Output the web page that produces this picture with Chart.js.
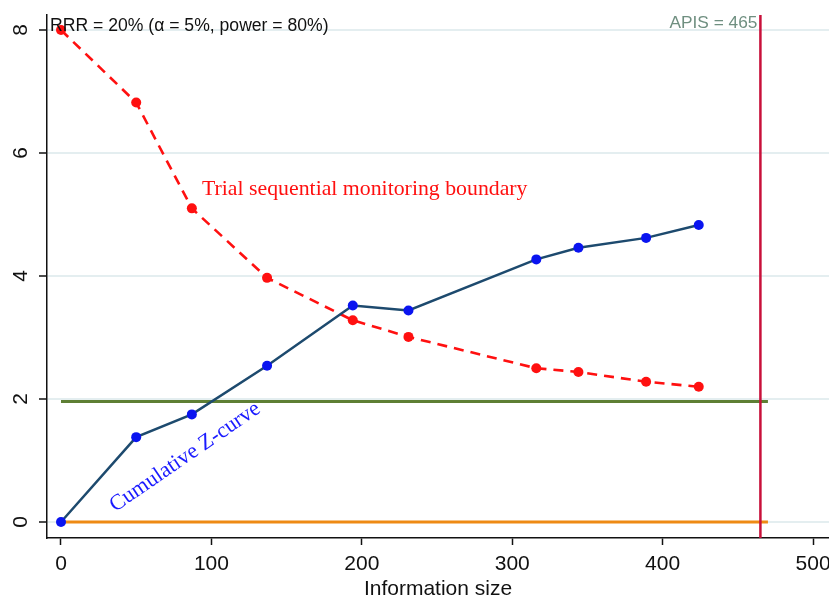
<!DOCTYPE html>
<html>
<head>
<meta charset="utf-8">
<script src="https://cdn.jsdelivr.net/npm/chart.js@4/dist/chart.umd.min.js"></script>
<style>
html,body{margin:0;padding:0;background:#fff;}
#wrap{width:829px;height:602px;position:relative;}
</style>
</head>
<body>
<div id="wrap"><canvas id="c" width="829" height="602"></canvas></div>
<script>
// ---- data ----
const infoSize = [0, 50, 87, 137, 194, 231, 316, 344, 389, 424];
const zCurve = [0, 1.38, 1.75, 2.54, 3.52, 3.44, 4.27, 4.46, 4.62, 4.83];
const boundary = [8.0, 6.82, 5.10, 3.97, 3.28, 3.01, 2.50, 2.44, 2.28, 2.20];
const conventionalZ = 1.96;
const lineEnd = 470;
const apis = 465;
const xTicks = [0, 100, 200, 300, 400, 500];
const yTicks = [0, 2, 4, 6, 8];
const xRange = [-9.3, 510.6];
const yRange = [-0.26, 8.244];

const zPts = infoSize.map((x, i) => ({x, y: zCurve[i]}));
const bPts = infoSize.map((x, i) => ({x, y: boundary[i]}));

const textPlugin = {
  id: 'texts',
  afterDatasetsDraw(chart) {
    const ctx = chart.ctx, xs = chart.scales.x, ys = chart.scales.y;
    ctx.save();
    ctx.textBaseline = 'alphabetic';
    // RRR label
    ctx.fillStyle = '#111';
    ctx.font = '17.6px "Liberation Sans", Arial, sans-serif';
    ctx.textAlign = 'left';
    ctx.fillText('RRR = 20% (\u03B1 = 5%, power = 80%)', xs.getPixelForValue(-7.3), ys.getPixelForValue(7.98));
    // APIS label
    ctx.fillStyle = '#6f8f80';
    ctx.font = '17.3px "Liberation Sans", Arial, sans-serif';
    ctx.textAlign = 'right';
    ctx.fillText('APIS = ' + apis, xs.getPixelForValue(apis) - 3, ys.getPixelForValue(8.03));
    // boundary label
    ctx.fillStyle = '#ff1010';
    ctx.font = '21.8px "Liberation Serif", "Times New Roman", serif';
    ctx.textAlign = 'left';
    ctx.fillText('Trial sequential monitoring boundary', xs.getPixelForValue(93.75), ys.getPixelForValue(5.317));
    // Z-curve label
    ctx.fillStyle = '#1a1aff';
    ctx.font = '22px "Liberation Serif", "Times New Roman", serif';
    ctx.translate(xs.getPixelForValue(36), ys.getPixelForValue(0.16));
    ctx.rotate(-34.5 * Math.PI / 180);
    ctx.fillText('Cumulative Z-curve', 0, 0);
    ctx.restore();
  }
};

new Chart(document.getElementById('c'), {
  type: 'scatter',
  data: {
    datasets: [
      { label: 'Z-curve', data: zPts, showLine: true, borderColor: '#1d4a6e', borderWidth: 2.5,
        pointRadius: 5, pointBackgroundColor: '#0a14f0', pointBorderColor: '#0a14f0', pointBorderWidth: 0, order: 1, tension: 0 },
      { label: 'Boundary', data: bPts, showLine: true, borderColor: '#ff1010', borderWidth: 2.6, borderDash: [10, 7],
        pointRadius: 5, pointBackgroundColor: '#ff1010', pointBorderColor: '#ff1010', pointBorderWidth: 0, order: 2, tension: 0 },
      { label: 'APIS', data: [{x: apis, y: yRange[0]}, {x: apis, y: yRange[1]}], showLine: true,
        borderColor: '#c8103a', borderWidth: 2.5, pointRadius: 0, order: 3 },
      { label: 'Zero', data: [{x: 0, y: 0}, {x: lineEnd, y: 0}], showLine: true,
        borderColor: '#ee8a14', borderWidth: 3, pointRadius: 0, order: 4 },
      { label: 'Conventional', data: [{x: 0, y: conventionalZ}, {x: lineEnd, y: conventionalZ}], showLine: true,
        borderColor: '#5e7f34', borderWidth: 3, pointRadius: 0, order: 5 }
    ]
  },
  options: {
    responsive: false,
    animation: false,
    devicePixelRatio: 1,
    layout: { autoPadding: false, padding: { top: 15, right: 0, left: 0, bottom: 0 } },
    plugins: { legend: { display: false }, tooltip: { enabled: false } },
    scales: {
      x: {
        type: 'linear', min: xRange[0], max: xRange[1],
        afterBuildTicks(s) { s.ticks = xTicks.map(v => ({value: v})); },
        afterFit(s) { s.height = 64; s.paddingLeft = 0; s.paddingRight = 0; },
        ticks: { color: '#111', font: { family: '"Liberation Sans", Arial, sans-serif', size: 21 }, padding: 7, maxRotation: 0, minRotation: 0 },
        grid: { drawOnChartArea: false, drawTicks: true, tickLength: 7, tickColor: '#111', tickWidth: 1.5 },
        border: { color: '#111', width: 1.5 },
        title: { display: true, text: 'Information size', color: '#111',
          font: { family: '"Liberation Sans", Arial, sans-serif', size: 21 }, padding: { top: 0, bottom: 0 } }
      },
      y: {
        type: 'linear', min: yRange[0], max: yRange[1],
        afterBuildTicks(s) { s.ticks = yTicks.map(v => ({value: v})); },
        afterFit(s) { s.width = 47; s.paddingTop = 0; s.paddingBottom = 0; },
        ticks: { color: '#111', font: { family: '"Liberation Sans", Arial, sans-serif', size: 21 }, padding: 12,
          minRotation: 90, maxRotation: 90, crossAlign: 'center' },
        grid: { color: '#e4eef0', lineWidth: 2, drawTicks: true, tickLength: 8, tickColor: '#111', tickWidth: 1.5 },
        border: { color: '#111', width: 1.5 }
      }
    }
  },
  plugins: [textPlugin]
});
</script>
</body>
</html>
